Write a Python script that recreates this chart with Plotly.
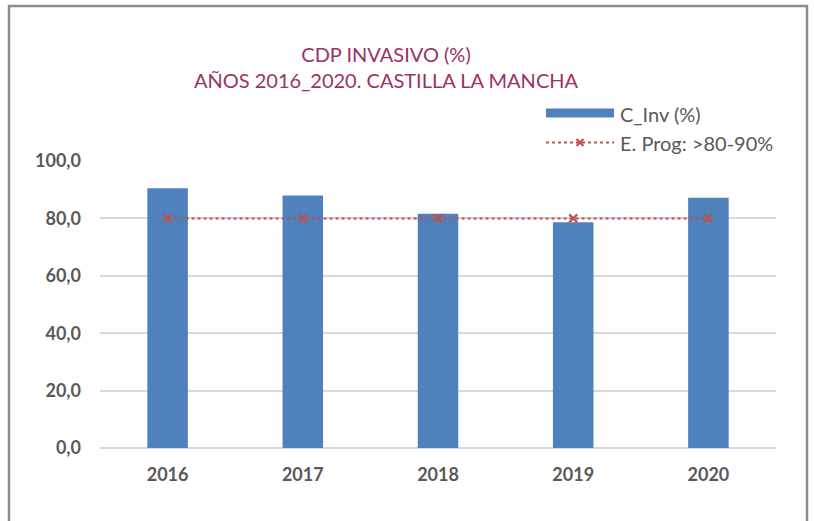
import plotly.graph_objects as go

years = ["2016", "2017", "2018", "2019", "2020"]
c_inv = [90.5, 88.0, 81.6, 78.7, 87.2]
e_prog = [80.0, 80.0, 80.0, 80.0, 80.0]
y_ticks = [0, 20, 40, 60, 80, 100]
y_tick_labels = ["0,0", "20,0", "40,0", "60,0", "80,0", "100,0"]
series_names = ["C_Inv (%)", "E. Prog: >80-90%"]
title_lines = ["CDP INVASIVO (%)", "AÑOS 2016_2020. CASTILLA LA MANCHA"]

BAR = "#4F81BD"
RED = "#C0504D"
TXT = "#595959"
TITLE = "#993366"
FONT = "Lato, 'Liberation Sans', sans-serif"

W, H = 814, 521
# plot area in screen px: x 100..776, y 161..448
L, T = 100, 161
R = W - 776
B = H - 448
pw, ph = W - L - R, H - T - B


def px(x):
    return (x - L) / pw


def py(y):
    return (448 - y) / ph


fig = go.Figure()
fig.add_trace(go.Bar(x=years, y=c_inv, name=series_names[0], marker=dict(color=BAR, line=dict(width=0)),
                     showlegend=False))
fig.add_trace(go.Scatter(x=years, y=e_prog, name=series_names[1], mode="lines+markers",
                         line=dict(color=RED, width=2, dash="dot"),
                         marker=dict(symbol="x-thin", size=8, line=dict(color=RED, width=2.2)),
                         showlegend=False))

shapes = [
    # outer frame
    dict(type="rect", xref="paper", yref="paper", x0=px(9), x1=px(807), y0=py(6), y1=py(540),
         line=dict(color="#8C8C8C", width=2.5), fillcolor="rgba(0,0,0,0)", layer="below"),
    # legend: bar swatch
    dict(type="rect", xref="paper", yref="paper", x0=px(546), x1=px(614), y0=py(108.5), y1=py(117.5),
         line=dict(width=0), fillcolor=BAR),
    # legend: dotted line
    dict(type="line", xref="paper", yref="paper", x0=px(546), x1=px(614), y0=py(142.5), y1=py(142.5),
         line=dict(color=RED, width=2, dash="dot")),
    # legend: x marker
    dict(type="line", xref="paper", yref="paper", x0=px(576.5), x1=px(583.5), y0=py(139), y1=py(146),
         line=dict(color=RED, width=2.2)),
    dict(type="line", xref="paper", yref="paper", x0=px(576.5), x1=px(583.5), y0=py(146), y1=py(139),
         line=dict(color=RED, width=2.2)),
]

annotations = [
    dict(text=series_names[0], xref="paper", yref="paper", x=px(618), y=py(114), xanchor="left",
         yanchor="middle", showarrow=False, font=dict(family=FONT, size=20, color=TXT)),
    dict(text=series_names[1], xref="paper", yref="paper", x=px(618), y=py(143), xanchor="left",
         yanchor="middle", showarrow=False, font=dict(family=FONT, size=20, color=TXT)),
]

fig.update_layout(
    width=W, height=H,
    margin=dict(l=L, r=R, t=T, b=B),
    paper_bgcolor="white", plot_bgcolor="white",
    title=dict(text="<br>".join(title_lines), x=386 / W, xref="container", xanchor="center",
               y=1 - 62 / H, yref="container", yanchor="middle",
               font=dict(family=FONT, size=20, color=TITLE)),
    bargap=0.7,
    shapes=shapes,
    annotations=annotations,
    showlegend=False,
)
fig.update_xaxes(showgrid=False, showline=False, zeroline=False, ticks="",
                 tickfont=dict(family=FONT, size=18, color=TXT, weight="bold"),
                 ticklabelstandoff=14)
fig.update_yaxes(range=[0, 100], tickvals=y_ticks, ticktext=y_tick_labels, showgrid=True,
                 gridcolor="#D9D9D9", gridwidth=1.5, zeroline=True, zerolinecolor="#D9D9D9",
                 zerolinewidth=1.5, showline=False, ticks="",
                 tickfont=dict(family=FONT, size=18, color=TXT, weight="bold"),
                 ticklabelstandoff=18)

fig.write_html("out.html", config={"displayModeBar": False},
               post_script="document.body.style.margin='0';document.body.style.overflow='hidden';")
